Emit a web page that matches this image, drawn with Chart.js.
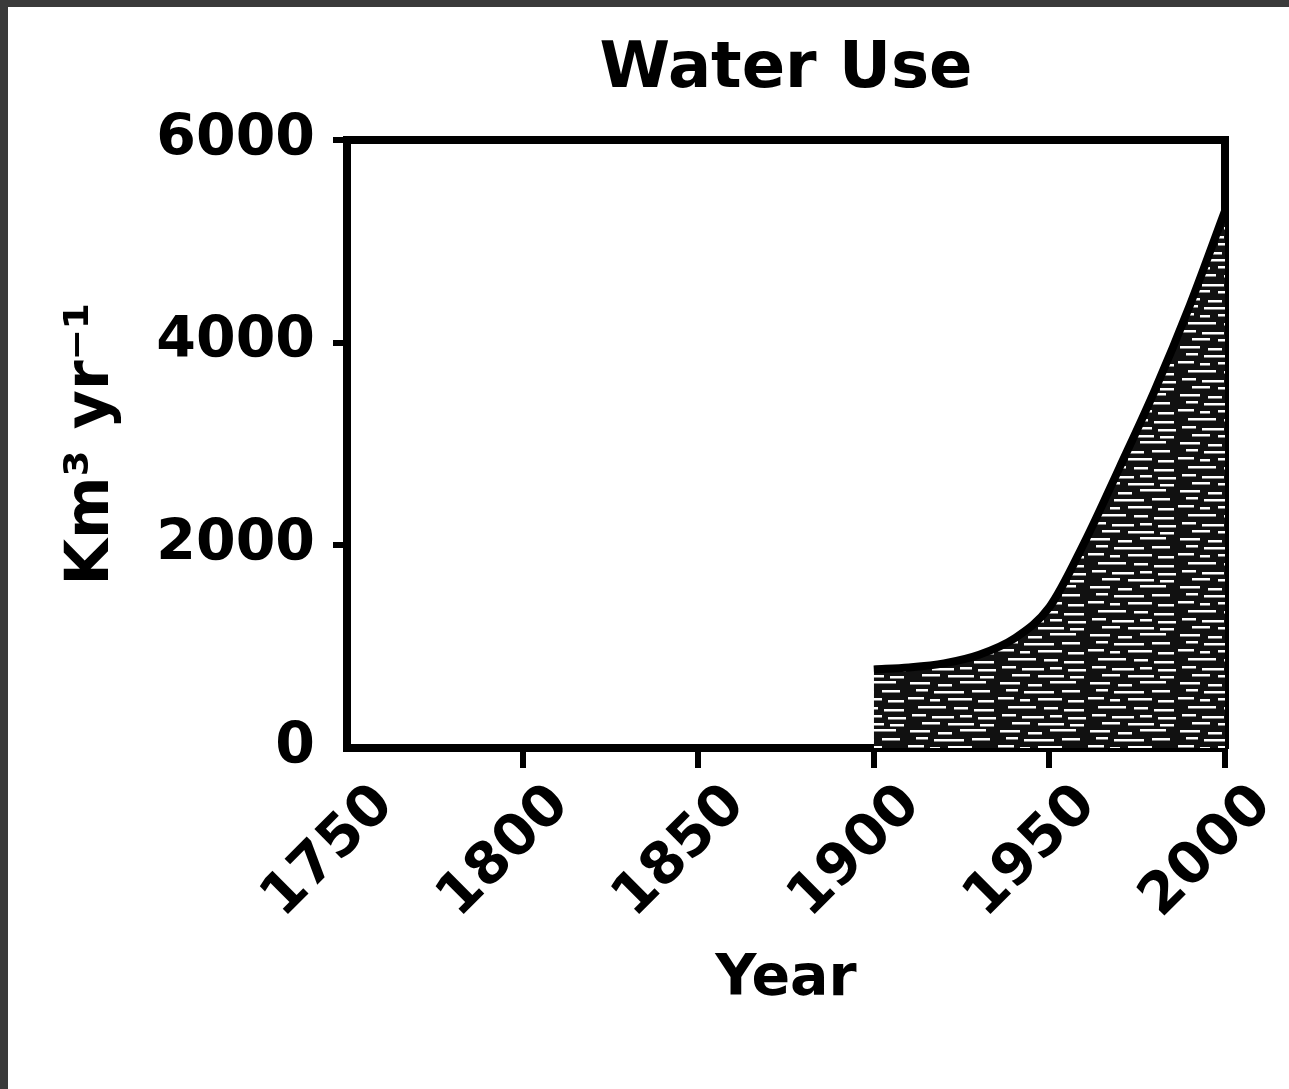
<!DOCTYPE html>
<html>
<head>
<meta charset="utf-8">
<script src="https://cdn.jsdelivr.net/npm/chart.js@4.4.1/dist/chart.umd.min.js"></script>
<style>
  html, body { margin: 0; padding: 0; background: #ffffff; }
  #wrap { position: absolute; left: 0; top: 0; width: 1289px; height: 1089px; box-sizing: border-box;
          border-left: 8px solid #3a3a3a; border-top: 7px solid #3a3a3a; background: #ffffff; }
  canvas { display: block; }
</style>
</head>
<body>
<div id="wrap"><canvas id="c" width="1281" height="1082"></canvas></div>
<script>
// ---- data ----
const titleText = 'Water Use';
const yAxisTitle = 'Km\u00B3 yr\u207B\u00B9';
const xAxisTitle = 'Year';
const years = [1900, 1910, 1920, 1930, 1940, 1950, 1960, 1970, 1980, 1990, 2000];
const waterUse = [775, 795, 835, 920, 1080, 1390, 2030, 2770, 3530, 4370, 5300];
const xTicks = [1750, 1800, 1850, 1900, 1950, 2000];
const xTickLabels = ['1750', '1800', '1850', '1900', '1950', '2000'];
const yTicks = [0, 2000, 4000, 6000];
const yTickLabels = ['0', '2000', '4000', '6000'];

// ---- texture for the filled area ----
function makePattern() {
  const p = document.createElement('canvas');
  p.width = 90; p.height = 48;
  const g = p.getContext('2d');
  g.fillStyle = '#111111';
  g.fillRect(0, 0, p.width, p.height);
  g.fillStyle = '#ffffff';
  const dashes = [[2,3,20],[30,5,14],[52,2,26],[8,10,12],[26,12,30],[64,11,18],[0,18,16],[22,20,10],
                  [40,19,24],[70,21,16],[10,27,28],[46,28,14],[66,30,20],[4,35,14],[24,37,22],[52,36,12],
                  [70,38,18],[14,43,18],[40,44,26],[72,45,14]];
  dashes.forEach(d => g.fillRect(d[0], d[1], d[2], 2.5));
  const ctx = document.getElementById('c').getContext('2d');
  return ctx.createPattern(p, 'repeat');
}

const titlePlugin = {
  id: 'topTitle',
  afterDraw(chart) {
    const ctx = chart.ctx;
    const a = chart.chartArea;
    ctx.save();
    ctx.font = 'bold 64px "DejaVu Sans"';
    ctx.fillStyle = '#000';
    ctx.textAlign = 'center';
    ctx.textBaseline = 'alphabetic';
    ctx.fillText(titleText, (a.left + a.right) / 2, 80);
    ctx.restore();
  }
};

const tickColor = (hidden) => (c) => (c.tick && c.tick.value === hidden) ? 'rgba(0,0,0,0)' : '#000';

const fontTick = { family: 'DejaVu Sans', weight: 'bold', size: 57 };

new Chart(document.getElementById('c'), {
  type: 'line',
  data: {
    datasets: [{
      data: years.map((y, i) => ({ x: y, y: waterUse[i] })),
      borderColor: '#000',
      borderWidth: 8,
      backgroundColor: makePattern(),
      fill: 'origin',
      pointRadius: 0,
      cubicInterpolationMode: 'monotone'
    }]
  },
  options: {
    responsive: false,
    devicePixelRatio: 1,
    animation: false,
    layout: { padding: 0 },
    plugins: { legend: { display: false }, tooltip: { enabled: false }, title: { display: false } },
    scales: {
      x: {
        type: 'linear', position: 'bottom', min: 1750, max: 2000,
        afterBuildTicks: s => { s.ticks = xTicks.map(v => ({ value: v })); },
        afterFit: s => { s.height = 341; },
        ticks: {
          autoSkip: false, minRotation: 45, maxRotation: 45, color: '#000', font: fontTick,
          padding: 4,
          labelOffset: (c) => 38 - (c.index || 0) * 5,
          callback: (v) => xTickLabels[xTicks.indexOf(v)]
        },
        grid: { drawOnChartArea: false, drawTicks: true, tickLength: 20, lineWidth: 6, color: tickColor(1750) },
        border: { display: true, color: '#000', width: 8 },
        title: { display: true, text: xAxisTitle, color: '#000',
                 font: { family: 'DejaVu Sans', weight: 'bold', size: 57 }, padding: { top: 0, bottom: 75 } }
      },
      x2: {
        type: 'linear', position: 'top', min: 1750, max: 2000,
        afterFit: s => { s.height = 133; },
        ticks: { display: false },
        grid: { display: false, drawTicks: false },
        border: { display: true, color: '#000', width: 8 }
      },
      y: {
        type: 'linear', position: 'left', min: 0, max: 6000,
        afterBuildTicks: s => { s.ticks = yTicks.map(v => ({ value: v })); },
        afterFit: s => { s.width = 339; },
        ticks: {
          color: '#000', font: fontTick, padding: 18,
          callback: (v) => yTickLabels[yTicks.indexOf(v)]
        },
        grid: { drawOnChartArea: false, drawTicks: true, tickLength: 14, lineWidth: 6, color: tickColor(0) },
        border: { display: true, color: '#000', width: 8 },
        title: { display: true, text: yAxisTitle, color: '#000',
                 font: { family: 'DejaVu Sans', weight: 'bold', size: 60 }, padding: { top: 48, bottom: 0 } }
      },
      y2: {
        type: 'linear', position: 'right', min: 0, max: 6000,
        afterFit: s => { s.width = 64; },
        ticks: { display: false },
        grid: { display: false, drawTicks: false },
        border: { display: true, color: '#000', width: 8 }
      }
    }
  },
  plugins: [titlePlugin]
});
</script>
</body>
</html>
